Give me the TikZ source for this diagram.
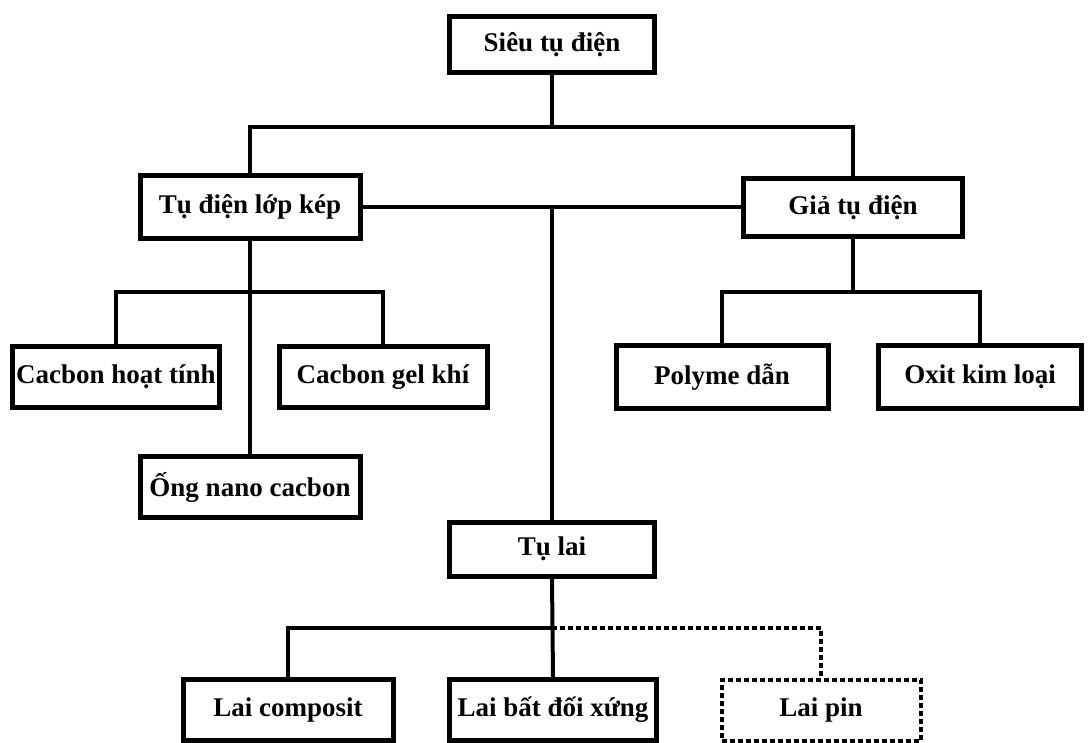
\documentclass[tikz,border=0pt]{standalone}
\usepackage{fontspec}
\setmainfont{Liberation Serif}
\usetikzlibrary{positioning}

\begin{document}
\begin{tikzpicture}[
  x=1pt, y=-1pt,
  line width=4pt,
  mybox/.style 2 args={
    draw,
    rectangle,
    line width=5pt,
    minimum width=#1,
    minimum height=#2,
    inner sep=0pt,
    font=\fontsize{27}{32}\selectfont\bfseries
    },
  dotline/.style={line width=4pt, dash pattern=on 5pt off 3pt}
]
\useasboundingbox (0,0) rectangle (1088,743);

\node[mybox={205pt}{56pt}] (sieu) at (552,45) {Siêu tụ điện};
\node[mybox={220pt}{63pt}] (lopkep) at (250,207) {Tụ điện lớp kép};
\node[mybox={219pt}{58pt}] (gia) at (853,208) {Giả tụ điện};

\node[mybox={207pt}{61pt}] (hoattinh) at (116,377) {Cacbon hoạt tính};
\node[mybox={208pt}{61pt}] (gelkhi) at (383,377) {Cacbon gel khí};
\node[mybox={220pt}{60pt}] (nano) at (250,487) {Ống nano cacbon};
\node[mybox={212pt}{63pt}] (polyme) at (722,377) {Polyme dẫn};
\node[mybox={203pt}{63pt}] (oxit) at (980,377) {Oxit kim loại};

\node[mybox={205pt}{54pt}] (tulai) at (552,549) {Tụ lai};
\node[mybox={210pt}{61pt}] (composit) at (288,710) {Lai composit};
\node[mybox={207pt}{61pt}] (batdoixung) at (553,710) {Lai bất đối xứng};
\node[mybox={199pt}{61pt}, dotline] (laipin) at (821,710) {Lai pin};

% Top level
\coordinate (top) at (552,127);
\draw (sieu.south) -- (top);
\draw (lopkep.north) |- (top) -| (gia.north);
\draw (lopkep.east) -- (lopkep.east -| gia.west);
\draw (tulai.north) -- (tulai.north |- lopkep.east);

% Lop kep branch
\coordinate (lk) at (250,292);
\draw (lopkep.south) -- (nano.north);
\draw (hoattinh.north) |- (lk) -| (gelkhi.north);

% Gia tu dien branch
\coordinate (gk) at (853,292);
\draw (gia.south) -- (gk);
\draw (polyme.north) |- (gk) -| (oxit.north);

% Tu lai branch
\coordinate (tl) at (552,628);
\draw (tulai.south) -- (batdoixung.north);
\draw (composit.north) |- (tl);
\draw[dotline] (tl) -| (laipin.north);

\end{tikzpicture}
\end{document}
